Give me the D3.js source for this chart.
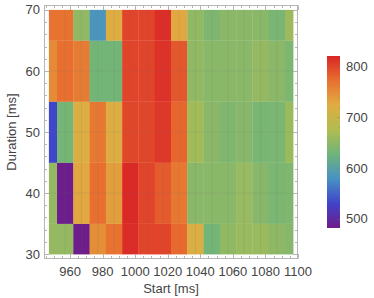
<!DOCTYPE html>
<html><head><meta charset="utf-8">
<script src="https://cdn.jsdelivr.net/npm/d3@7"></script>
<style>body{margin:0;background:#fff}svg{display:block}text{font-family:"Liberation Sans",Arial,sans-serif}</style>
</head><body><svg id="c" width="374" height="298"></svg>
<script>
// Data
const starts = [947, 957, 967, 977, 987, 997, 1007, 1017, 1027, 1037, 1047, 1057, 1067, 1077, 1087, 1097];
const durations = [30, 40, 50, 60, 70];
const row30 = [655, 655, 485, 748, 770, 816, 800, 800, 776, 718, 630, 652, 658, 658, 650, 645];
const row40 = [655, 485, 728, 772, 735, 818, 800, 785, 766, 647, 647, 647, 657, 645, 636, 640];
const row50 = [532, 632, 720, 765, 720, 798, 798, 808, 778, 665, 648, 640, 645, 635, 636, 658];
const row60 = [750, 772, 762, 630, 630, 800, 800, 812, 788, 652, 647, 648, 647, 655, 648, 637];
const row70 = [770, 770, 652, 583, 722, 800, 800, 815, 728, 652, 638, 648, 648, 647, 635, 660];
const rows = [row30, row40, row50, row60, row70];
const xTicks = [960, 980, 1000, 1020, 1040, 1060, 1080, 1100];
const yTicks = [30, 40, 50, 60, 70];
const legendTicks = [500, 600, 700, 800];
const colorStops = [482, 530, 579, 627, 675, 724, 772, 820];
const colorList = ["#701b88", "#4043c9", "#4892c3", "#6fb47a", "#b0bd50", "#e0ac41", "#e86f2f", "#da2626"];

const svg = d3.select("#c");
const x = d3.scaleLinear().domain([944, 1100]).range([44, 298]);
const y = d3.scaleLinear().domain([29.2, 70.8]).range([259, 5]);
const color = d3.scaleLinear().domain(colorStops).range(colorList).interpolate(d3.interpolateRgb).clamp(true);

function edges(arr) {
  return arr.map((v, i) => [
    i === 0 ? v : (arr[i - 1] + v) / 2,
    i === arr.length - 1 ? v : (v + arr[i + 1]) / 2
  ]);
}
const xe = edges(starts), ye = edges(durations);
const cells = [];
rows.forEach((r, j) => r.forEach((v, i) => cells.push({i, j, v})));

svg.append("g").selectAll("rect").data(cells).join("rect")
  .attr("x", d => x(xe[d.i][0]))
  .attr("width", d => x(xe[d.i][1]) - x(xe[d.i][0]) + 0.3)
  .attr("y", d => y(ye[d.j][1]))
  .attr("height", d => y(ye[d.j][0]) - y(ye[d.j][1]) + 0.3)
  .attr("fill", d => color(d.v));

// faint mesh lines at data points
const mesh = svg.append("g").attr("stroke", "rgba(110,110,110,0.13)").attr("stroke-width", 1);
starts.slice(1, -1).forEach(s => mesh.append("line").attr("x1", x(s)).attr("x2", x(s)).attr("y1", y(30)).attr("y2", y(70)));
durations.slice(1, -1).forEach(d => mesh.append("line").attr("y1", y(d)).attr("y2", y(d)).attr("x1", x(947)).attr("x2", x(1097)));

// frame
const fr = svg.append("g").attr("stroke", "#b5b5b5").attr("fill", "none");
fr.append("rect").attr("x", 44.5).attr("y", 5.5).attr("width", 253).attr("height", 253);
const tk = svg.append("g").attr("stroke", "#b5b5b5").attr("stroke-width", 1);
const xMinor = d3.range(945, 1101, 5);
xMinor.forEach(v => {
  const major = xTicks.includes(v);
  const L = major ? 4.5 : 2.5, px = Math.round(x(v)) + 0.5;
  tk.append("line").attr("x1", px).attr("x2", px).attr("y1", 258.5).attr("y2", 258.5 - L);
  tk.append("line").attr("x1", px).attr("x2", px).attr("y1", 5.5).attr("y2", 5.5 + L);
});
const yMinor = d3.range(30, 71, 2);
yMinor.forEach(v => {
  const major = yTicks.includes(v);
  const L = major ? 4.5 : 2.5, py = Math.round(y(v)) + 0.5;
  tk.append("line").attr("y1", py).attr("y2", py).attr("x1", 44.5).attr("x2", 44.5 + L);
  tk.append("line").attr("y1", py).attr("y2", py).attr("x1", 297.5).attr("x2", 297.5 - L);
});

// tick labels
svg.append("g").selectAll("text").data(xTicks).join("text")
  .attr("x", d => x(d)).attr("y", 276).attr("text-anchor", "middle")
  .attr("font-size", 13).attr("fill", "#444").text(d => d);
svg.append("g").selectAll("text").data(yTicks).join("text")
  .attr("x", 40).attr("y", d => y(d) + 4.6).attr("text-anchor", "end")
  .attr("font-size", 13).attr("fill", "#444").text(d => d);

// axis labels
svg.append("text").attr("x", 171).attr("y", 293).attr("text-anchor", "middle")
  .attr("font-size", 13).attr("fill", "#444").text("Start [ms]");
svg.append("text").attr("transform", "translate(16,132) rotate(-90)").attr("text-anchor", "middle")
  .attr("font-size", 13).attr("fill", "#444").text("Duration [ms]");

// color legend
const ly = d3.scaleLinear().domain([482, 820]).range([228, 56]);
const defs = svg.append("defs");
const grad = defs.append("linearGradient").attr("id", "lg").attr("x1", 0).attr("x2", 0).attr("y1", 1).attr("y2", 0);
colorStops.forEach(s => grad.append("stop").attr("offset", (s - 482) / (820 - 482)).attr("stop-color", color(s)));
svg.append("rect").attr("x", 327).attr("y", ly(820)).attr("width", 13).attr("height", ly(482) - ly(820)).attr("fill", "url(#lg)");
const ltk = svg.append("g").attr("stroke", "rgba(120,120,120,0.35)");
d3.range(500, 820, 20).forEach(v => {
  const L = v % 100 === 0 ? 3 : 1.5;
  ltk.append("line").attr("x1", 340).attr("x2", 340 - L).attr("y1", Math.round(ly(v)) + 0.5).attr("y2", Math.round(ly(v)) + 0.5);
});
svg.append("g").selectAll("text").data(legendTicks).join("text")
  .attr("x", 346).attr("y", d => ly(d) + 4.6).attr("font-size", 13).attr("fill", "#444").text(d => d);
</script></body></html>
